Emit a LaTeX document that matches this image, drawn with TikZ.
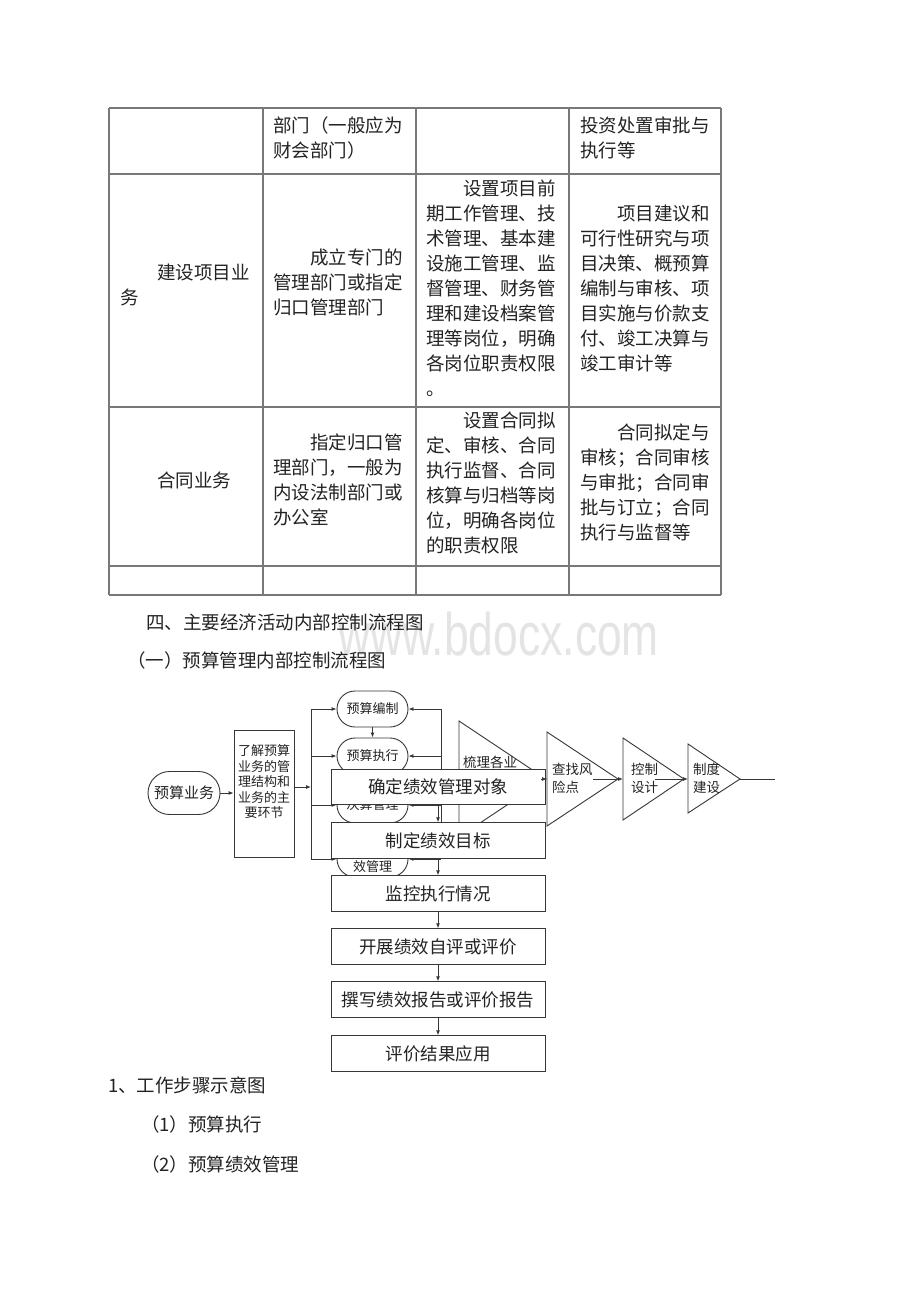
\documentclass[tikz,border=0pt]{standalone}
\usepackage{fontspec}
\setmainfont{Noto Sans CJK SC}
\newfontfamily\wmfont{Liberation Sans}
\usetikzlibrary{arrows.meta,shapes.misc}
\definecolor{ink}{RGB}{35,35,35}
\definecolor{grid}{RGB}{120,120,120}
\definecolor{wm}{RGB}{228,228,228}
\definecolor{fl}{RGB}{55,55,55}
\newcommand\cellrows[4]{%
  \foreach \t [count=\i from 0] in {#4} {\node[txt, name=#1\i] at (#2, #3+\i*25.1) {\t};}}
\newcommand\ind{\hspace*{2em}}
\begin{document}
\begin{tikzpicture}[x=1pt,y=-1pt,
  txt/.style={anchor=base west, inner sep=0pt, text=ink, font=\fontsize{18.5}{18.5}\selectfont},
  gridline/.style={draw=grid, line width=1.2pt},
  fline/.style={draw=fl, line width=0.9pt},
  arr/.style={fline, -{Latex[length=5pt,width=4pt]}},
  stad/.style={rounded rectangle, draw=fl, line width=0.9pt, fill=white, minimum width=73pt, minimum height=36pt, inner sep=1pt, text=ink, font=\fontsize{13}{15}\selectfont, align=center},
  stepbox/.style={rectangle, draw=fl, line width=0.9pt, fill=white, minimum width=214pt, minimum height=35.5pt, inner sep=0pt, text=ink, font=\fontsize{17.5}{17.5}\selectfont},
  tritext/.style={anchor=west, inner sep=0pt, text=ink, font=\fontsize{13.5}{18}\selectfont, align=left},
]
\fill[white] (0,0) rectangle (920,1302);
\useasboundingbox (0,0) rectangle (920,1302);

% watermark
\node[anchor=base west, inner sep=0pt, text=wm, font=\wmfont\fontsize{60}{60}\selectfont] (wmk) at (338,655) {\scalebox{0.74}[1]{www.bdocx.com}};

% table grid
\foreach \yy in {108,174,407,566,595} {\draw[gridline] (109,\yy) -- (721,\yy);}
\foreach \xx in {109,263,416,569,721} {\draw[gridline] (\xx,108) -- (\xx,595);}

% row 1
\cellrows{ra}{273}{132}{部门（一般应为,财会部门）}
\cellrows{rb}{580}{132}{投资处置审批与,执行等}
% row 2
\cellrows{rc}{120}{279}{\ind 建设项目业,务}
\cellrows{rd}{273}{264}{\ind 成立专门的,管理部门或指定,归口管理部门}
\cellrows{re}{426}{195}{\ind 设置项目前,期工作管理、技,术管理、基本建,设施工管理、监,督管理、财务管,理和建设档案管,理等岗位，明确,各岗位职责权限,。}
\cellrows{rf}{580}{220}{\ind 项目建议和,可行性研究与项,目决策、概预算,编制与审核、项,目实施与价款支,付、竣工决算与,竣工审计等}
% row 3
\cellrows{rg}{120}{487}{\ind 合同业务}
\cellrows{rh}{273}{449}{\ind 指定归口管,理部门，一般为,内设法制部门或,办公室}
\cellrows{ri}{426}{427}{\ind 设置合同拟,定、审核、合同,执行监督、合同,核算与归档等岗,位，明确各岗位,的职责权限}
\cellrows{rj}{580}{439}{\ind 合同拟定与,审核；合同审核,与审批；合同审,批与订立；合同,执行与监督等}

% headings
\node[txt] (h1) at (146,629) {四、主要经济活动内部控制流程图};
\node[txt] (h2) at (127,667) {（一）预算管理内部控制流程图};

% ---------- flowchart ----------
\node[rounded rectangle, draw=fl, line width=0.9pt, minimum width=74pt, minimum height=43pt, inner sep=1pt, text=ink, font=\fontsize{15}{15}\selectfont] (ysyw) at (184,793) {预算业务};
\node[rectangle, draw=fl, line width=0.9pt, minimum width=60pt, minimum height=127pt, inner sep=0pt] (ljr) at (264,793.5) {};
\node[inner sep=0pt, text=ink, font=\fontsize{13}{15.5}\selectfont, align=center] (ljrt) at (264,782) {了解预算\\业务的管\\理结构和\\业务的主\\要环节};
\draw[arr] (ysyw.east) -- (ljr.west |- ysyw.east);

% stadiums
\node[stad] (s1) at (372.5,709) {预算编制};
\node[stad] (s2) at (372.5,756) {预算执行};
\node[stad] (s3) at (372.5,805) {决算管理};
\node[stad] (s4) at (372.5,859) {预算绩\\效管理};
\draw[arr] (s1.south) -- (s2.north);

% left bus
\coordinate (bt) at (311,709);
\coordinate (bb) at (311,859);
\coordinate (in) at (294,787);
\coordinate (inb) at (311,787);
\draw[fline] (bt) -- (bb);
\draw[arr] (in) -- (inb);
\draw[arr] (bt) -- (s1.west);
\draw[arr] (bt |- s2.west) -- (s2.west);
\draw[arr] (bt |- s3.west) -- (s3.west);
\draw[arr] (bb) -- (s4.west);

% right feedback line
\coordinate (ft) at (441,709);
\coordinate (fb) at (441,859);
\draw[fline] (ft) -- (fb);
\draw[arr] (ft) -- (s1.east);
\draw[arr] (ft |- s2.east) -- (s2.east);
\draw[arr] (ft |- s3.east) -- (s3.east);
\draw[arr] (fb) -- (s4.east);

% triangles
\coordinate (t1a) at (459,721); \coordinate (t1p) at (546,779); \coordinate (t1b) at (459,837);
\draw[fline, fill=white] (t1a) -- (t1p) -- (t1b) -- cycle;
\node[tritext] (t1t) at (463,762) {梳理各业};

\coordinate (t2a) at (547,732); \coordinate (t2p) at (618,779); \coordinate (t2b) at (547,826);
\coordinate (t2l) at (547,779);
\draw[fline, fill=white] (t2a) -- (t2p) -- (t2b) -- cycle;
\node[tritext] (t2t) at (552,778) {查找风\\险点};

\coordinate (t3a) at (623,738); \coordinate (t3p) at (684,779); \coordinate (t3b) at (623,820);
\coordinate (t3l) at (623,779);
\draw[fline, fill=white] (t3a) -- (t3p) -- (t3b) -- cycle;
\node[tritext] (t3t) at (631,778) {控制\\设计};

\coordinate (t4a) at (688,744); \coordinate (t4p) at (740,779); \coordinate (t4b) at (688,813);
\coordinate (t4l) at (688,779);
\draw[fline, fill=white] (t4a) -- (t4p) -- (t4b) -- cycle;
\node[tritext] (t4t) at (693,778) {制度\\建设};

\coordinate (c2s) at (593,779);
\coordinate (c3s) at (655,779);
\coordinate (endp) at (775,779);
\draw[arr] (c2s) -- (t3l);
\draw[arr] (c3s) -- (t4l);
\draw[fline] (t4p) -- (endp);

% chain of boxes
\node[stepbox] (b1) at (438,787) {确定绩效管理对象};
\node[stepbox] (b2) at (438,840.5) {制定绩效目标};
\node[stepbox] (b3) at (438,893.5) {监控执行情况};
\node[stepbox] (b4) at (438,946.5) {开展绩效自评或评价};
\node[stepbox] (b5) at (438,999.5) {撰写绩效报告或评价报告};
\node[stepbox] (b6) at (438,1053.5) {评价结果应用};
\draw[arr] (b1.south) -- (b2.north);
\draw[arr] (b2.south) -- (b3.north);
\draw[arr] (b3.south) -- (b4.north);
\draw[arr] (b4.south) -- (b5.north);
\draw[arr] (b5.south) -- (b6.north);
\coordinate (t1e) at (541,779);
\draw[arr] (t1e) -- (t2l);

% text below
\node[txt] (p1) at (108,1092) {1、工作步骤示意图};
\node[txt] (p2) at (141,1131) {（1）预算执行};
\node[txt] (p3) at (141,1171) {（2）预算绩效管理};
\end{tikzpicture}
\end{document}
